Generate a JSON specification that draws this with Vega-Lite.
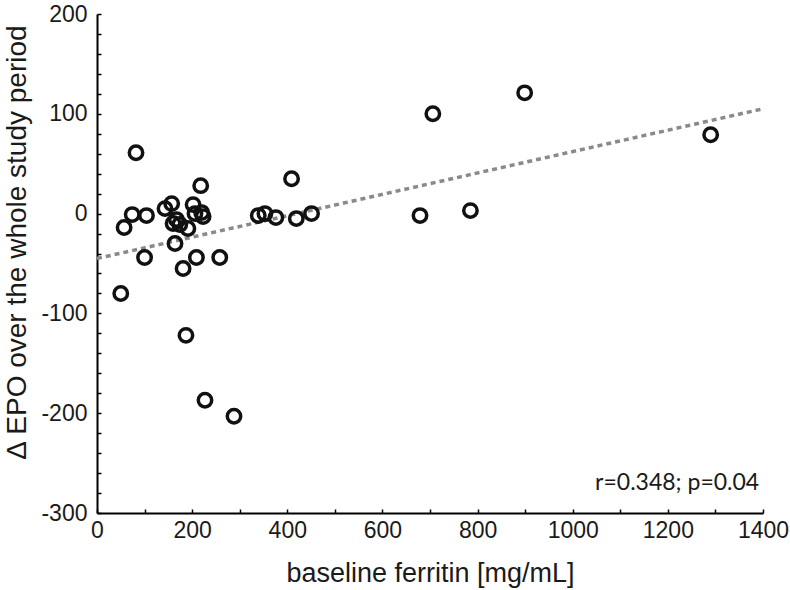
{
  "$schema": "https://vega.github.io/schema/vega-lite/v6.json",
  "width": 666,
  "height": 499,
  "autosize": "none",
  "padding": {"left": 97, "top": 14, "right": 27, "bottom": 77},
  "background": "white",
  "config": {
    "view": {"stroke": null},
    "axis": {
      "labelOverlap": false, "labelFlush": false, "labelBound": false,
      "grid": false,
      "domainColor": "#000000", "domainWidth": 2,
      "tickColor": "#000000", "tickWidth": 1.5, "tickSize": -4,
      "labelFont": "Liberation Sans", "labelFontSize": 23, "labelColor": "#1a1a1a",
      "titleFont": "Liberation Sans", "titleFontWeight": "normal", "titleColor": "#1a1a1a"
    }
  },
  "datasets": {
    "pts": [
      {"ferritin": 50, "epo": -80},
      {"ferritin": 57, "epo": -14},
      {"ferritin": 74, "epo": -1},
      {"ferritin": 82, "epo": 61},
      {"ferritin": 104, "epo": -2},
      {"ferritin": 100, "epo": -44},
      {"ferritin": 143, "epo": 5},
      {"ferritin": 157, "epo": 10},
      {"ferritin": 164, "epo": -30},
      {"ferritin": 160, "epo": -10},
      {"ferritin": 167, "epo": -6},
      {"ferritin": 174, "epo": -11},
      {"ferritin": 181, "epo": -55},
      {"ferritin": 191, "epo": -15},
      {"ferritin": 187, "epo": -122},
      {"ferritin": 202, "epo": 9},
      {"ferritin": 206, "epo": 0},
      {"ferritin": 209, "epo": -44},
      {"ferritin": 218, "epo": 28},
      {"ferritin": 220, "epo": 1},
      {"ferritin": 223, "epo": -3},
      {"ferritin": 227, "epo": -187},
      {"ferritin": 258, "epo": -44},
      {"ferritin": 288, "epo": -203},
      {"ferritin": 339, "epo": -2},
      {"ferritin": 353, "epo": 0},
      {"ferritin": 376, "epo": -4},
      {"ferritin": 409, "epo": 35},
      {"ferritin": 419, "epo": -5},
      {"ferritin": 451, "epo": 0},
      {"ferritin": 679, "epo": -2},
      {"ferritin": 706, "epo": 100},
      {"ferritin": 785, "epo": 3},
      {"ferritin": 899, "epo": 121},
      {"ferritin": 1290, "epo": 79}
    ],
    "fit": [
      {"ferritin": 0, "epo": -45},
      {"ferritin": 1400, "epo": 105}
    ],
    "note": [
      {"label": "r=0.348; p=0.04"}
    ]
  },
  "layer": [
    {
      "data": {"name": "fit"},
      "mark": {"type": "line", "color": "#8a8a8a", "strokeWidth": 3.5, "strokeDash": [5, 4]},
      "encoding": {
        "x": {
          "field": "ferritin", "type": "quantitative",
          "scale": {"domain": [0, 1400], "nice": false, "zero": false},
          "axis": {
            "values": [0, 100, 200, 300, 400, 500, 600, 700, 800, 900, 1000, 1100, 1200, 1300, 1400],
            "labelExpr": "datum.value % 200 == 0 ? '' + datum.value : ''",
            "labelPadding": 10,
            "title": "baseline ferritin [mg/mL]",
            "titleFontSize": 27,
            "titlePadding": 18
          }
        },
        "y": {
          "field": "epo", "type": "quantitative",
          "scale": {"domain": [-300, 200], "nice": false, "zero": false},
          "axis": {
            "values": [-300, -280, -260, -240, -220, -200, -180, -160, -140, -120, -100, -80, -60, -40, -20, 0, 20, 40, 60, 80, 100, 120, 140, 160, 180, 200],
            "labelExpr": "datum.value % 100 == 0 ? '' + datum.value : ''",
            "labelPadding": 14,
            "title": "Δ EPO over the whole study period",
            "titleFontSize": 28,
            "titleX": -66, "titleY": 228
          }
        }
      }
    },
    {
      "data": {"name": "pts"},
      "mark": {"type": "point", "shape": "circle", "filled": false, "size": 180, "stroke": "#111111", "strokeWidth": 3.5, "opacity": 1},
      "encoding": {
        "x": {
          "field": "ferritin", "type": "quantitative",
          "axis": {
            "values": [0, 100, 200, 300, 400, 500, 600, 700, 800, 900, 1000, 1100, 1200, 1300, 1400],
            "labelExpr": "datum.value % 200 == 0 ? '' + datum.value : ''",
            "labelPadding": 10,
            "title": "baseline ferritin [mg/mL]",
            "titleFontSize": 27,
            "titlePadding": 18
          }
        },
        "y": {
          "field": "epo", "type": "quantitative",
          "axis": {
            "values": [-300, -280, -260, -240, -220, -200, -180, -160, -140, -120, -100, -80, -60, -40, -20, 0, 20, 40, 60, 80, 100, 120, 140, 160, 180, 200],
            "labelExpr": "datum.value % 100 == 0 ? '' + datum.value : ''",
            "labelPadding": 14,
            "title": "Δ EPO over the whole study period",
            "titleFontSize": 28,
            "titleX": -66, "titleY": 228
          }
        }
      }
    },
    {
      "data": {"name": "note"},
      "mark": {"type": "text", "align": "right", "baseline": "alphabetic", "font": "Lato", "fontSize": 23, "color": "#1a1a1a"},
      "encoding": {
        "x": {
          "datum": 1392, "type": "quantitative",
          "axis": {
            "values": [0, 100, 200, 300, 400, 500, 600, 700, 800, 900, 1000, 1100, 1200, 1300, 1400],
            "labelExpr": "datum.value % 200 == 0 ? '' + datum.value : ''",
            "labelPadding": 10,
            "title": "baseline ferritin [mg/mL]",
            "titleFontSize": 27,
            "titlePadding": 18
          }
        },
        "y": {
          "datum": -277, "type": "quantitative",
          "axis": {
            "values": [-300, -280, -260, -240, -220, -200, -180, -160, -140, -120, -100, -80, -60, -40, -20, 0, 20, 40, 60, 80, 100, 120, 140, 160, 180, 200],
            "labelExpr": "datum.value % 100 == 0 ? '' + datum.value : ''",
            "labelPadding": 14,
            "title": "Δ EPO over the whole study period",
            "titleFontSize": 28,
            "titleX": -66, "titleY": 228
          }
        },
        "text": {"field": "label"}
      }
    }
  ]
}
